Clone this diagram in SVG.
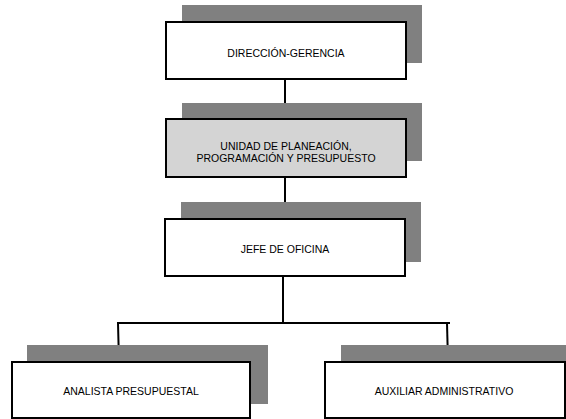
<svg xmlns="http://www.w3.org/2000/svg" width="566" height="419" viewBox="0 0 566 419">
  <style>
    .shadow { fill: #808080; }
    .box { fill: #ffffff; stroke: #000000; stroke-width: 2; }
    .box.staff { fill: #d4d4d4; }
    .label { font-family: "Liberation Sans", Arial, sans-serif; font-size: 10.5px; fill: #000000; text-anchor: middle; }
    .wire { fill: none; stroke: #000000; stroke-width: 2; }
  </style>
  <rect width="566" height="419" fill="#ffffff"/>

  <!-- reporting lines -->
  <g id="connectors">
    <line class="wire" x1="285" y1="79" x2="285" y2="119"/>
    <line class="wire" x1="285" y1="177" x2="285" y2="219"/>
    <polyline class="wire" points="283,277 283,323"/>
    <polyline class="wire" points="119,362 118,323 450,323"/>
    <line class="wire" x1="447" y1="323" x2="448" y2="362"/>
  </g>

  <g id="direccion-gerencia">
    <rect class="shadow" x="182" y="5" width="240" height="58"/>
    <rect class="box" x="166" y="22" width="240" height="57"/>
    <text class="label" x="286" y="57">DIRECCIÓN-GERENCIA</text>
  </g>

  <g id="unidad-planeacion">
    <rect class="shadow" x="182" y="103" width="240" height="58"/>
    <rect class="box staff" x="166" y="119" width="240" height="58"/>
    <text class="label" x="286" y="150">UNIDAD DE PLANEACIÓN,</text>
    <text class="label" x="286" y="162">PROGRAMACIÓN Y PRESUPUESTO</text>
  </g>

  <g id="jefe-oficina">
    <rect class="shadow" x="181" y="202" width="240" height="60"/>
    <rect class="box" x="165" y="219" width="240" height="57"/>
    <text class="label" x="285" y="253">JEFE DE OFICINA</text>
  </g>

  <g id="analista-presupuestal">
    <rect class="shadow" x="27" y="345" width="241" height="59"/>
    <rect class="box" x="12" y="362" width="238" height="56"/>
    <text class="label" x="131" y="395">ANALISTA PRESUPUESTAL</text>
  </g>

  <g id="auxiliar-administrativo">
    <rect class="shadow" x="341" y="345" width="240" height="59"/>
    <rect class="box" x="325" y="362" width="240" height="56"/>
    <text class="label" x="444" y="395">AUXILIAR ADMINISTRATIVO</text>
  </g>
</svg>
